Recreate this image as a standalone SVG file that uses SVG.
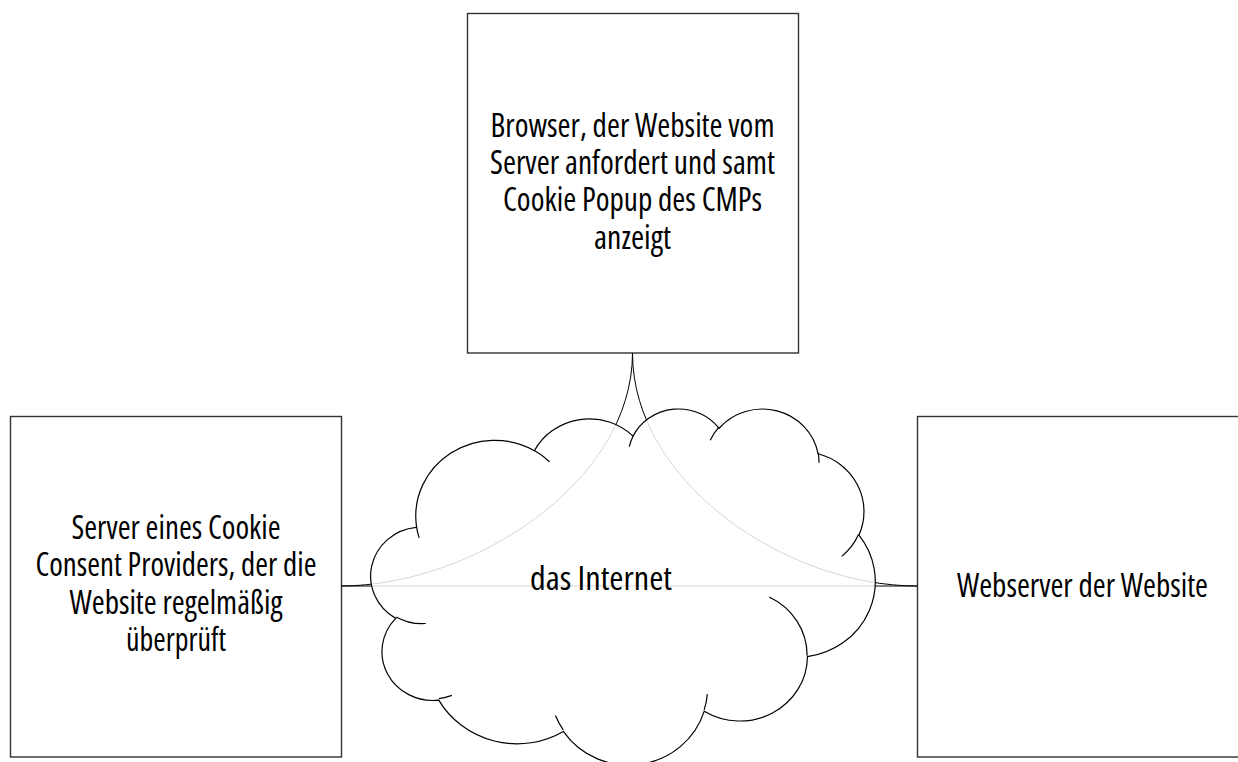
<svg xmlns="http://www.w3.org/2000/svg" width="1238" height="762" viewBox="0 0 1238 762">
<style>
.box{fill:#ffffff;stroke:#333333;stroke-width:1.4}
.conn{fill:none;stroke:#000000;stroke-width:1}
.cloud{fill:#ffffff;fill-opacity:0.84;stroke:#000000;stroke-width:1.2}
.tail{fill:none;stroke:#000000;stroke-width:1.2}
.lbl{font-family:"Open Sans","Liberation Sans",sans-serif;font-stretch:condensed;font-weight:400;font-size:32.5px;fill:#000000;text-anchor:middle}
</style>
<rect width="1238" height="762" fill="#ffffff"/>
<g id="browser">
<rect class="box" x="467.5" y="13.5" width="331" height="339.5"/>
<text class="lbl"><tspan x="632.5" y="136.7" textLength="284" lengthAdjust="spacingAndGlyphs">Browser, der Website vom</tspan><tspan x="632.5" y="174" textLength="285" lengthAdjust="spacingAndGlyphs">Server anfordert und samt</tspan><tspan x="632.5" y="211.3" textLength="259" lengthAdjust="spacingAndGlyphs">Cookie Popup des CMPs</tspan><tspan x="632.5" y="248.6" textLength="77" lengthAdjust="spacingAndGlyphs">anzeigt</tspan></text>
</g>
<g id="cmp-server">
<rect class="box" x="10.5" y="416.5" width="331" height="340.5"/>
<text class="lbl"><tspan x="176" y="538.5" textLength="209" lengthAdjust="spacingAndGlyphs">Server eines Cookie</tspan><tspan x="176" y="576" textLength="281" lengthAdjust="spacingAndGlyphs">Consent Providers, der die</tspan><tspan x="176" y="613.5" textLength="213" lengthAdjust="spacingAndGlyphs">Website regelmäßig</tspan><tspan x="176" y="651" textLength="100" lengthAdjust="spacingAndGlyphs">überprüft</tspan></text>
</g>
<g id="webserver">
<rect class="box" x="917.5" y="416.5" width="331" height="340.5"/>
<text class="lbl" x="1082.5" y="597" textLength="251" lengthAdjust="spacingAndGlyphs">Webserver der Website</text>
</g>
<g id="connectors">
<path class="conn" d="M632.5 353 C632.5 483 471 586 341 586"/>
<path class="conn" d="M632.5 353 C632.5 483 787 586 917 586"/>
<path class="conn" d="M341 586 L917 586"/>
</g>
<g id="internet">
<path class="cloud" d="M416.50 526.22 A78.79 75.73 0 0 1 534.40 450.67 A62.22 59.89 0 0 1 633.04 436.10 A50.93 48.99 0 0 1 719.10 428.26 A56.67 54.35 0 0 1 818.10 453.76 A62.22 59.93 0 0 1 858.94 535.21 A79.04 75.98 0 0 1 807.45 656.70 A67.49 64.83 0 0 1 704.22 711.18 A78.77 75.94 0 0 1 563.35 731.40 A90.07 86.88 0 0 1 438.77 700.13 A50.87 48.77 0 0 1 395.70 618.37 A50.69 48.99 0 0 1 416.12 527.36 Z"/>
<path class="tail" d="M425.75 623.51 A50.69 48.99 0 0 1 396.20 616.95 M451.83 695.39 A50.87 48.77 0 0 1 438.89 698.54 M563.24 729.93 A78.77 75.94 0 0 1 555.44 715.57 M707.32 694.17 A78.77 75.94 0 0 1 704.21 709.90 M769.17 596.96 A67.49 64.83 0 0 1 807.11 655.76 M858.64 534.33 A62.22 59.93 0 0 1 841.75 556.38 M818.11 452.51 A56.67 54.35 0 0 1 819.00 462.72 M710.24 440.37 A56.67 54.35 0 0 1 718.90 427.08 M629.31 446.70 A50.93 48.99 0 0 1 633.50 435.25 M534.33 450.59 A78.79 75.73 0 0 1 549.49 461.69 M419.15 537.91 A78.79 75.73 0 0 1 416.41 526.21"/>
<text class="lbl" x="601" y="590" textLength="142" lengthAdjust="spacingAndGlyphs">das Internet</text>
</g>
</svg>
